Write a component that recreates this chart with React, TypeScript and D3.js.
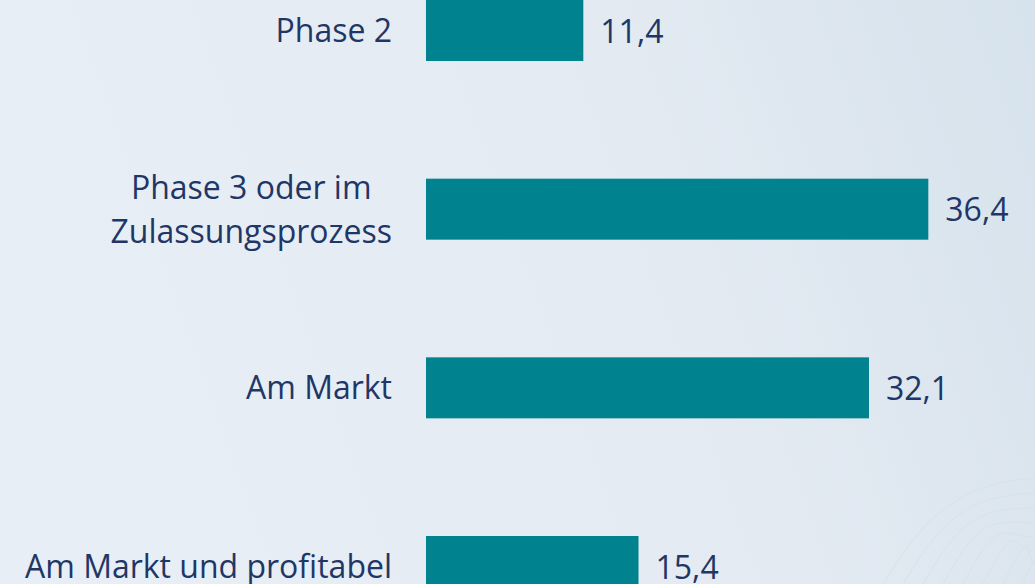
import React, { useEffect, useRef } from "react";
import * as d3 from "d3";

const categories: string[][] = [
  ["Phase 2"],
  ["Phase 3 oder im", "Zulassungsprozess"],
  ["Am Markt"],
  ["Am Markt und profitabel"],
];
const values: number[] = [11.4, 36.4, 32.1, 15.4];
const valueLabels: string[] = ["11,4", "36,4", "32,1", "15,4"];

const W = 1035;
const H = 584;

export default function App() {
  const ref = useRef<SVGSVGElement | null>(null);

  useEffect(() => {
    const svg = d3.select(ref.current);
    svg.selectAll("*").remove();

    const defs = svg.append("defs");
    const grad = defs
      .append("linearGradient")
      .attr("id", "bg")
      .attr("x1", "0")
      .attr("y1", "0.2")
      .attr("x2", "1")
      .attr("y2", "0");
    grad.append("stop").attr("offset", "0").attr("stop-color", "#e8eef5");
    grad.append("stop").attr("offset", "0.6").attr("stop-color", "#e3eaf2");
    grad.append("stop").attr("offset", "1").attr("stop-color", "#d6e2ec");

    svg.append("rect").attr("width", W).attr("height", H).attr("fill", "url(#bg)");

    // decorative faint curves, bottom right
    const deco = svg
      .append("g")
      .attr("fill", "none")
      .attr("stroke", "#d6e2ec")
      .attr("stroke-width", 1);
    d3.range(0, 9).forEach((o) => {
      const p = d3.path();
      const sx = 880 + o * 20;
      p.moveTo(sx, 590);
      p.bezierCurveTo(sx + 40, 520 - o * 2, 960 + o * 10, 480 + o * 14, 1040, 478 + o * 15);
      deco.append("path").attr("d", p.toString());
    });

    const x = d3.scaleLinear().domain([0, 1]).range([426, 426 + 13.8]);
    const step = 178.67;
    const pad = 1 - 61 / step;
    const y = d3
      .scaleBand<number>()
      .domain(d3.range(values.length))
      .range([0, step * (values.length - pad)])
      .paddingInner(pad)
      .paddingOuter(0);

    const g = svg.append("g");
    g.selectAll("rect.bar")
      .data(values)
      .join("rect")
      .attr("class", "bar")
      .attr("x", x(0))
      .attr("y", (_, i) => y(i)!)
      .attr("width", (d) => x(d) - x(0))
      .attr("height", y.bandwidth())
      .attr("fill", "#00828f");

    const fontFamily = "'Open Sans', sans-serif";
    const fs = 32;
    const color = "#1f3766";

    values.forEach((v, i) => {
      const cy = y(i)! + y.bandwidth() / 2;
      g.append("text")
        .attr("x", x(v) + 17)
        .attr("y", cy + 12)
        .attr("font-family", fontFamily)
        .attr("font-size", fs)
        .attr("fill", color)
        .text(valueLabels[i]);

      const lines = categories[i];
      const lh = 44;
      const firstBase = cy + 11.5 - ((lines.length - 1) * lh) / 2;
      const tg = g.append("g");
      const texts = lines.map((ln, j) =>
        tg
          .append("text")
          .attr("y", firstBase + j * lh)
          .attr("font-family", fontFamily)
          .attr("font-size", fs)
          .attr("fill", color)
          .attr("text-anchor", "middle")
          .text(ln)
      );
      const widths = texts.map((t) => (t.node() as SVGTextElement).getComputedTextLength());
      const maxW = d3.max(widths) || 0;
      texts.forEach((t) => t.attr("x", 392 - maxW / 2));
    });
  }, []);

  return (
    <svg
      ref={ref}
      width={W}
      height={H}
      style={{ position: "absolute", left: 0, top: 0, display: "block" }}
    />
  );
}
